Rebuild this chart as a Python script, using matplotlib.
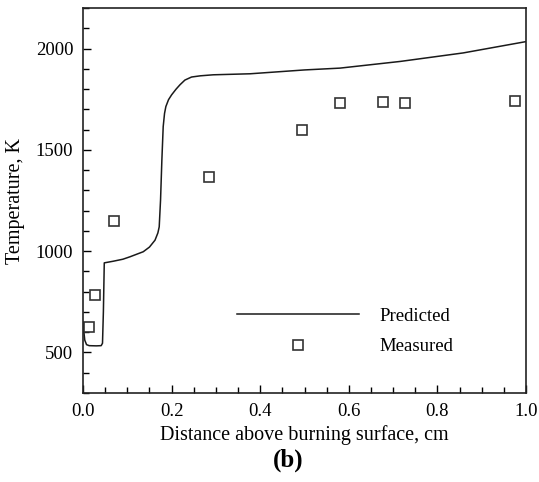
import matplotlib
matplotlib.use("Agg")
import matplotlib.pyplot as plt
from matplotlib.ticker import MultipleLocator

# ── data ───────────────────────────────────────────────────────────────────
pred_x = [0.002, 0.004, 0.008, 0.014, 0.030, 0.041, 0.044, 0.046, 0.048,
          0.068, 0.090, 0.106, 0.136, 0.150, 0.1625, 0.169, 0.172, 0.175,
          0.178, 0.181, 0.184, 0.187, 0.193, 0.200, 0.210, 0.219, 0.230,
          0.245, 0.265, 0.294, 0.377, 0.50, 0.58, 0.716, 0.858, 1.0]
pred_t = [600, 560, 538, 533, 532, 533, 545, 700, 942,
          950, 960, 972, 997, 1020, 1054, 1090, 1120, 1252,
          1450, 1615, 1680, 1714, 1748, 1772, 1800, 1822, 1845,
          1860, 1866, 1871, 1876, 1895, 1904, 1937, 1979, 2035]

meas_x = [0.014, 0.026, 0.070, 0.284, 0.494, 0.580, 0.678, 0.726, 0.976]
meas_t = [625, 782, 1149, 1366, 1597, 1734, 1739, 1734, 1744]

SERIF = "Liberation Serif"
plt.rcParams["font.family"] = [SERIF, "DejaVu Serif"]

fig = plt.figure(figsize=(5.39, 4.82), dpi=100)
ax = fig.add_axes([0.154, 0.185, 0.822, 0.798])

ax.plot(pred_x, pred_t, "-", color="#1a1a1a", lw=1.1, label="Predicted")
ax.plot(meas_x, meas_t, "s", ms=7.5, mfc="white", mec="#333333", mew=1.2,
        lw=0, label="Measured")

ax.set_xlim(0.0, 1.0)
ax.set_ylim(300, 2200)
ax.xaxis.set_major_locator(MultipleLocator(0.2))
ax.xaxis.set_minor_locator(MultipleLocator(0.05))
ax.yaxis.set_major_locator(MultipleLocator(500))
ax.yaxis.set_minor_locator(MultipleLocator(100))
ax.set_xticklabels([f"{v:.1f}" for v in ax.get_xticks()])
ax.tick_params(which="both", direction="in", top=False, right=False,
               labelsize=13.5, width=1.0, pad=7)
ax.tick_params(which="major", length=5.5)
ax.tick_params(which="minor", length=4)
for s in ax.spines.values():
    s.set_linewidth(1.2)
    s.set_color("#222222")

ax.set_xlabel("Distance above burning surface, cm", fontsize=14.5, labelpad=4)
ax.set_ylabel("Temperature, K", fontsize=14.5, labelpad=8)

ax.legend(loc="upper left", bbox_to_anchor=(0.318, 0.256), frameon=False,
          fontsize=13.5, handlelength=6.5, handletextpad=1.1,
          labelspacing=0.72, borderpad=0.2)

fig.text(0.534, 0.046, "(b)", fontsize=18, fontweight="bold",
         ha="center", va="center")

fig.savefig("out.png", dpi=100)
